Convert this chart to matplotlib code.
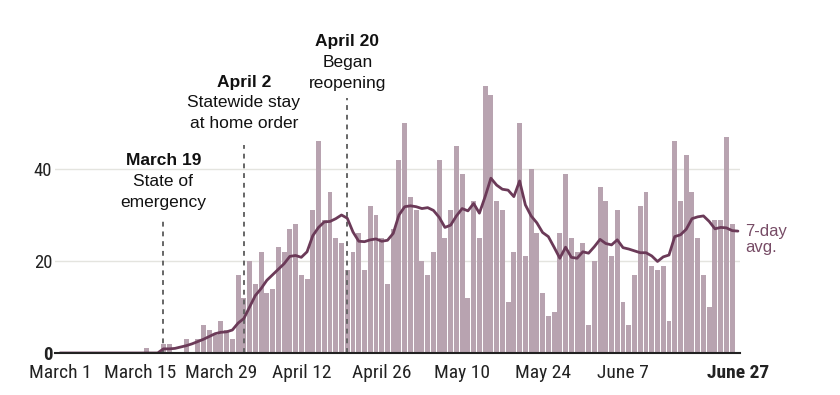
import matplotlib

matplotlib.use("Agg")
import matplotlib.pyplot as plt
import numpy as np
import pandas as pd
from matplotlib import font_manager

# daily new cases, March 1 .. June 26
daily_cases = [
    0, 0, 0, 0, 0, 0, 0, 0, 0, 0, 0, 0, 0, 0, 0,
    1, 0, 0, 2, 2, 0, 0, 3, 0, 3, 6, 5, 4, 7, 5, 3, 17,
    12, 20, 15, 22, 13, 14, 23, 22, 27, 28, 17, 16, 31, 46, 29, 35, 25, 24,
    18, 22, 26, 18, 32, 30, 25, 15, 27, 42, 50, 34, 31, 20, 17, 22, 42, 25,
    31, 45, 39, 12, 33, 25, 58, 56, 33, 31, 11, 22, 50, 21, 40, 26, 13,
    8, 9, 26, 39, 25, 22, 24, 6, 20, 36, 33, 21, 31, 11, 6, 17, 32, 35,
    19, 18, 19, 7, 46, 33, 43, 35, 25, 17, 10, 29, 29, 47, 28,
]

# 7-day average, March 1 .. June 27
avg_7day = [
    0, 0, 0, 0, 0, 0, 0, 0, 0, 0, 0, 0, 0, 0, 0, 0, 0, 0,
    0.9, 0.9, 1.0, 1.3, 1.6, 2.0, 2.5, 3.0, 3.6, 4.2, 4.5, 4.6, 5.0, 6.5,
    7.5, 10.0, 12.5, 14.0, 15.8, 17.0, 18.2, 19.4, 21.0, 21.2, 20.8, 22.0, 25.5, 27.3, 28.5, 28.6, 29.2, 30.0,
    29.3, 26.3, 24.3, 24.2, 24.6, 24.8, 24.3, 24.5, 26.0, 30.0, 31.8, 32.0, 31.8, 31.4, 31.6, 31.0, 29.5, 27.3,
    27.8, 29.8, 31.4, 30.9, 32.5, 30.4, 34.0, 38.0, 36.5, 35.6, 35.4, 34.0, 37.4, 32.2, 29.8, 28.3, 26.2,
    25.3, 23.0, 20.6, 23.0, 20.8, 20.6, 22.0, 21.7, 23.1, 24.7, 23.8, 23.5, 24.6, 22.9, 22.6, 22.2, 21.8, 21.8,
    21.1, 19.9, 20.9, 21.3, 25.3, 25.7, 26.9, 29.2, 29.6, 29.8, 28.6, 27.0, 27.3, 27.2, 26.6, 26.5,
]

start_date = pd.Timestamp("2020-03-01")
tick_dates = ["2020-03-01", "2020-03-15", "2020-03-29", "2020-04-12", "2020-04-26",
              "2020-05-10", "2020-05-24", "2020-06-07", "2020-06-27"]
tick_labels = ["March 1", "March 15", "March 29", "April 12", "April 26",
               "May 10", "May 24", "June 7", "June 27"]

event_dates = ["2020-03-19", "2020-04-02", "2020-04-20"]
event_titles = ["March 19", "April 2", "April 20"]
event_lines = [["State of", "emergency"], ["Statewide stay", "at home order"], ["Began", "reopening"]]
event_tops = [29.6, 45.2, 55.4]      # where the dashed lines stop
event_text_base = [29.5, 46.6, 55.4]  # anchor for the stacked labels

y_ticks = [0, 20, 40]

BAR_COLOR = "#b8a3b0"
LINE_COLOR = "#6b3a58"
LABEL_COLOR = "#774c66"
TEXT_COLOR = "#222222"


def pick_font(names):
    available = {f.name for f in font_manager.fontManager.ttflist}
    for name in names:
        if name in available:
            return name
    return "DejaVu Sans"


narrow_font = pick_font(["Liberation Sans Narrow", "Roboto Condensed", "Liberation Sans"])
body_font = pick_font(["Liberation Sans", "Roboto", "DejaVu Sans"])


def day_of(date_str):
    return (pd.Timestamp(date_str) - start_date).days


bar_days = np.arange(len(daily_cases))
avg_days = np.arange(len(avg_7day))

fig = plt.figure(figsize=(8.4, 3.95), dpi=100)
ax = fig.add_axes([55 / 840, 42 / 395, 685 / 840, 285.2 / 395])

ax.bar(bar_days, daily_cases, width=0.86, color=BAR_COLOR, linewidth=0, zorder=2)

for date_str, top in zip(event_dates, event_tops):
    d = day_of(date_str)
    ax.plot([d, d], [0, top], color="#666666", lw=1.4, ls=(0, (2.5, 2.5)), zorder=3)

ax.plot(avg_days, avg_7day, color=LINE_COLOR, lw=2.0, zorder=4, solid_capstyle="round")

# event annotations stacked above the dashed lines
for date_str, base, title, lines in zip(event_dates, event_text_base, event_titles, event_lines):
    d = day_of(date_str)
    offsets = [37.5, 22.5, 7.5]
    texts = [title] + lines
    for i, (txt, off) in enumerate(zip(texts, offsets)):
        ax.annotate(txt, xy=(d, base), xytext=(0, off), textcoords="offset points",
                    ha="center", va="baseline", fontsize=12.5, family=body_font,
                    fontweight="bold" if i == 0 else "normal",
                    color="#111111", annotation_clip=False)

# 7-day avg label at the end of the line
ax.annotate("7-day", xy=(avg_days[-1], avg_7day[-1]), xytext=(5, 0), textcoords="offset points",
            ha="left", va="center", fontsize=12, family=body_font, color=LABEL_COLOR,
            annotation_clip=False)
ax.annotate("avg.", xy=(avg_days[-1], avg_7day[-1]), xytext=(5, -12), textcoords="offset points",
            ha="left", va="center", fontsize=12, family=body_font, color=LABEL_COLOR,
            annotation_clip=False)

ax.set_xlim(-0.87, 118.36)
ax.set_ylim(0, 62)

ax.set_yticks(y_ticks)
ax.set_yticklabels([str(v) for v in y_ticks], family=narrow_font, fontsize=13.5, color=TEXT_COLOR)
ax.get_yticklabels()[0].set_fontweight("bold")
ax.grid(axis="y", color="#e4e4df", lw=1)
ax.set_axisbelow(True)

ax.set_xticks([day_of(d) for d in tick_dates])
ax.set_xticklabels(tick_labels, family=narrow_font, fontsize=14, color=TEXT_COLOR)
ax.get_xticklabels()[-1].set_fontweight("bold")

ax.tick_params(axis="x", length=0, pad=8)
ax.tick_params(axis="y", length=0, pad=2)

for side in ["top", "right", "left"]:
    ax.spines[side].set_visible(False)
ax.spines["bottom"].set_color("#222222")
ax.spines["bottom"].set_linewidth(1.5)
ax.spines["bottom"].set_zorder(5)

fig.savefig("out.png", dpi=100)
plt.close(fig)
